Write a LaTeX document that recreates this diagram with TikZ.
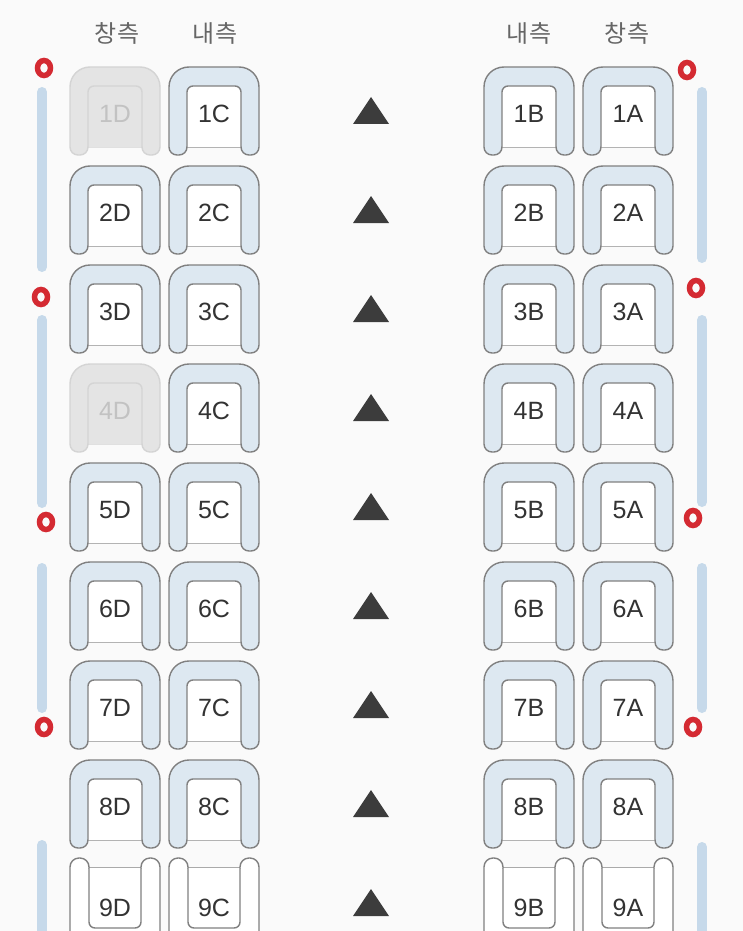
\documentclass[tikz,border=0pt]{standalone}
\usepackage{fontspec}
\setmainfont{Liberation Sans}
\newfontfamily\kr{Noto Sans CJK KR}
\definecolor{bgc}{HTML}{FAFAFA}
\definecolor{seatblue}{HTML}{DDE8F1}
\definecolor{seatline}{HTML}{808080}
\definecolor{offfill}{HTML}{E4E4E4}
\definecolor{offline}{HTML}{D4D4D4}
\definecolor{offtext}{HTML}{C2C2C2}
\definecolor{txt}{HTML}{333333}
\definecolor{hdr}{HTML}{666666}
\definecolor{barc}{HTML}{C6D9EA}
\definecolor{redo}{HTML}{D42A32}
\definecolor{tric}{HTML}{3C3C3C}
\colorlet{sfill}{seatblue}
\colorlet{cfill}{white}
\colorlet{sline}{seatline}
\colorlet{stext}{txt}
\tikzset{
  seatoff/.code={\colorlet{sfill}{offfill}\colorlet{cfill}{offfill}\colorlet{sline}{offline}\colorlet{stext}{offtext}},
  seattext/.style={text=stext,font=\fontsize{25}{28}\selectfont,inner sep=0pt},
  hdrtext/.style={text=hdr,font=\kr\fontsize{24}{28}\selectfont,inner sep=0pt},
  winbar/.style={draw=barc,line width=10pt,line cap=round},
  exitmark/.style={draw=redo,line width=5.5pt},
  aisle/.style={fill=tric},
  seat/.pic={
    \filldraw[fill=sfill,draw=sline,line width=1.4pt]
      (0,-80) -- (0,-20) arc[start angle=180,end angle=90,radius=20pt]
      -- (70,0) arc[start angle=90,end angle=0,radius=20pt]
      -- (90,-80) arc[start angle=0,end angle=-90,radius=8pt]
      -- (80,-88) arc[start angle=270,end angle=180,radius=8pt]
      -- (18,-80) arc[start angle=0,end angle=-90,radius=8pt]
      -- (8,-88) arc[start angle=270,end angle=180,radius=8pt] -- cycle;
    \filldraw[fill=cfill,draw=sline,line width=1.4pt,rounded corners=6pt]
      (18,-80) -- (18,-19) -- (72,-19) -- (72,-80);
    \node[seattext] (lbl) at (45,-47) {#1};
  },
  seatlow/.pic={
    \filldraw[fill=white,draw=sline,line width=1.4pt]
      (0,-95) -- (0,-9) arc[start angle=180,end angle=90,radius=9pt]
      -- (10,0) arc[start angle=90,end angle=0,radius=9pt]
      -- (19,-10) -- (71,-10) -- (71,-9) arc[start angle=180,end angle=90,radius=9pt]
      -- (81,0) arc[start angle=90,end angle=0,radius=9pt] -- (90,-95);
    \filldraw[fill=white,draw=sline,line width=1.4pt,rounded corners=6pt]
      (19,-10) -- (19,-70) -- (71,-70) -- (71,-10);
    \node[seattext] (lbl) at (45,-50) {#1};
  }
}
\begin{document}
\begin{tikzpicture}[x=1pt,y=1pt]
\useasboundingbox (0,0) rectangle (743,-931);
\clip (0,0) rectangle (743,-931);
\fill[bgc] (0,0) rectangle (743,-931);
% headers
\node[hdrtext] (h1) at (117,-33) {창측};
\node[hdrtext] (h2) at (215,-33) {내측};
\node[hdrtext] (h3) at (529,-33) {내측};
\node[hdrtext] (h4) at (627,-33) {창측};
% window bars left
\draw[winbar] (42,-92) -- (42,-267);
\draw[winbar] (42,-320) -- (42,-503);
\draw[winbar] (42,-568) -- (42,-708);
\draw[winbar] (42,-845) -- (42,-960);
% window bars right
\draw[winbar] (702,-92) -- (702,-258);
\draw[winbar] (702,-320) -- (702,-502);
\draw[winbar] (702,-568) -- (702,-708);
\draw[winbar] (702,-847) -- (702,-960);
% exit marks
\foreach \ex/\ey in {44/68,41/297,46/522,44/727,687/70,696/288,693/518,693/727}
  \draw[exitmark] (\ex,-\ey) ellipse[x radius=6.5pt,y radius=7.5pt];
% seats rows 1-8
\foreach \r in {1,...,8}{
  \pgfmathsetmacro{\yy}{-67-99*(\r-1)}
  \ifnum\r=1
    \pic[seatoff] (s\r D) at (70,\yy) {seat=\r D};
  \else\ifnum\r=4
    \pic[seatoff] (s\r D) at (70,\yy) {seat=\r D};
  \else
    \pic (s\r D) at (70,\yy) {seat=\r D};
  \fi\fi
  \pic (s\r C) at (169,\yy) {seat=\r C};
  \pic (s\r B) at (484,\yy) {seat=\r B};
  \pic (s\r A) at (583,\yy) {seat=\r A};
  \fill[aisle] (371,\yy-30) -- (389,\yy-57) -- (353,\yy-57) -- cycle;
}
% row 9
\pic (s9D) at (70,-858) {seatlow=9D};
\pic (s9C) at (169,-858) {seatlow=9C};
\pic (s9B) at (484,-858) {seatlow=9B};
\pic (s9A) at (583,-858) {seatlow=9A};
\fill[aisle] (371,-889) -- (389,-916) -- (353,-916) -- cycle;
\end{tikzpicture}
\end{document}
